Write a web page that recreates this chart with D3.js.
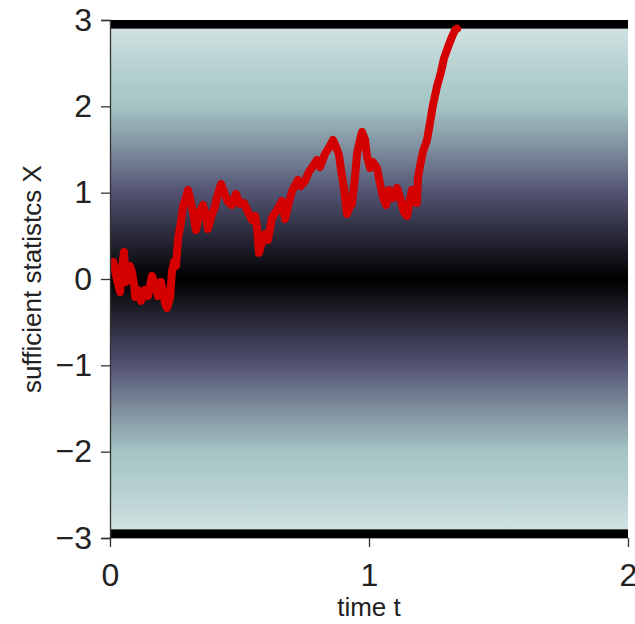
<!DOCTYPE html>
<html>
<head>
<meta charset="utf-8">
<script src="https://cdn.jsdelivr.net/npm/d3@7"></script>
<style>
  html, body { margin: 0; padding: 0; background: #fff; }
  svg { display: block; }
  text { font-family: "Liberation Sans", Arial, Helvetica, sans-serif; fill: #222; }
</style>
</head>
<body>
<svg id="chart" width="635" height="624"></svg>
<script>
// Sample path of the sufficient statistic over time
const times = [0.012,0.019,0.027,0.039,0.046,0.054,0.062,0.069,0.077,0.085,0.093,0.097,0.108,0.120,0.135,0.147,0.162,0.174,0.185,0.197,
  0.205,0.212,0.220,0.232,0.239,0.247,0.255,0.263,0.274,0.282,0.293,0.301,0.309,0.320,0.332,0.347,0.359,0.371,0.378,0.394,
  0.405,0.413,0.429,0.444,0.456,0.471,0.486,0.502,0.517,0.533,0.548,0.560,0.568,0.575,0.587,0.598,0.610,0.625,0.645,0.664,
  0.676,0.687,0.703,0.726,0.737,0.753,0.768,0.784,0.799,0.811,0.830,0.849,0.861,0.873,0.884,0.892,0.903,0.915,0.927,0.934,
  0.946,0.954,0.965,0.973,0.985,0.992,1.004,1.015,1.031,1.042,1.054,1.066,1.077,1.093,1.108,1.120,1.135,1.147,1.158,1.166,
  1.178,1.185,1.189,1.197,1.208,1.224,1.236,1.247,1.263,1.278,1.290,1.305,1.320,1.332,1.340];
const statX = [0.197,0.104,-0.012,-0.151,0.127,0.313,-0.035,0.046,0.151,0.081,-0.069,-0.208,-0.127,-0.255,-0.127,-0.197,0.035,-0.058,-0.197,-0.035,
  -0.151,-0.278,-0.336,-0.220,0.081,0.197,0.151,0.475,0.660,0.846,0.938,1.031,0.938,0.776,0.568,0.776,0.857,0.730,0.579,0.753,
  0.834,0.950,1.100,0.973,0.892,0.857,0.985,0.869,0.880,0.776,0.683,0.730,0.591,0.301,0.429,0.521,0.452,0.707,0.799,0.903,
  0.695,0.846,1.019,1.147,1.077,1.135,1.239,1.309,1.378,1.297,1.448,1.541,1.610,1.529,1.436,1.263,1.054,0.753,0.846,0.869,
  1.181,1.459,1.610,1.703,1.610,1.425,1.286,1.355,1.286,1.112,0.950,0.857,1.031,0.938,1.054,0.938,0.776,0.730,0.915,1.031,
  1.008,0.880,1.170,1.309,1.471,1.610,1.819,2.015,2.236,2.398,2.560,2.687,2.803,2.884,2.900];

// Decision bounds
const bounds = [2.9, -2.9];

// Background field: level of X -> position on the bone colour map
const fieldLevels = [0, 0.5, 1, 1.5, 2, 2.5, 3];
const fieldValues = [0, 0.185, 0.37, 0.56, 0.74, 0.80, 0.885];

// Axis ticks
const xTicks = [0, 1, 2];
const yTicks = [-3, -2, -1, 0, 1, 2, 3];

const svg = d3.select("#chart");
const plotL = 110, plotR = 628, plotT = 20, plotB = 538;

const x = d3.scaleLinear().domain([0, 2]).range([plotL, plotR]);
const y = d3.scaleLinear().domain([-3, 3]).range([plotB, plotT]);

// bone colour map
const bone = d3.scaleLinear()
  .domain([0, 0.365079, 0.746032, 1])
  .range(["#000000", "#515171", "#a6c6c6", "#ffffff"])
  .interpolate(d3.interpolateRgb);
const level = d3.scaleLinear().domain(fieldLevels).range(fieldValues);

const defs = svg.append("defs");
const grad = defs.append("linearGradient")
  .attr("id", "field")
  .attr("gradientUnits", "userSpaceOnUse")
  .attr("x1", 0).attr("x2", 0)
  .attr("y1", y(3)).attr("y2", y(-3));
grad.selectAll("stop")
  .data(d3.range(3, -3.0001, -0.05))
  .join("stop")
  .attr("offset", d => (3 - d) / 6)
  .attr("stop-color", d => bone(level(Math.abs(d))));

defs.append("clipPath").attr("id", "plotclip")
  .append("rect")
  .attr("x", plotL).attr("y", plotT)
  .attr("width", plotR - plotL).attr("height", plotB - plotT);

svg.append("rect")
  .attr("x", plotL).attr("y", plotT)
  .attr("width", plotR - plotL).attr("height", plotB - plotT)
  .attr("fill", "url(#field)");

// bottom spine
svg.append("line")
  .attr("x1", plotL).attr("x2", plotR)
  .attr("y1", plotB).attr("y2", plotB)
  .attr("stroke", "#555").attr("stroke-width", 1.2);

// bound bands
svg.selectAll("rect.bound")
  .data(bounds)
  .join("rect")
  .attr("class", "bound")
  .attr("x", plotL)
  .attr("width", plotR - plotL)
  .attr("y", d => d > 0 ? y(3) : y(d))
  .attr("height", d => Math.abs(y(d) - y(d > 0 ? 3 : -3)))
  .attr("fill", "#000");

// sample path
const pts = times.map((t, i) => [t, statX[i]]);
svg.append("path")
  .datum(pts)
  .attr("clip-path", "url(#plotclip)")
  .attr("fill", "none")
  .attr("stroke", "#d40000")
  .attr("stroke-width", 8)
  .attr("stroke-linejoin", "round")
  .attr("stroke-linecap", "round")
  .attr("d", d3.line().x(d => x(d[0])).y(d => y(d[1])));

// y axis
const yAxis = d3.axisLeft(y).tickValues(yTicks).tickSize(9).tickPadding(9)
  .tickFormat(d => d < 0 ? "\u2212" + Math.abs(d) : String(d));
const gy = svg.append("g").attr("transform", `translate(${plotL},0)`).call(yAxis);
gy.select(".domain").attr("stroke", "#333").attr("stroke-width", 1.3);
gy.selectAll(".tick line").attr("stroke", "#333").attr("stroke-width", 1.3);
gy.selectAll(".tick text")
  .attr("font-size", 32)
  .attr("fill", "#222")
  .attr("font-family", "'Liberation Sans', Arial, Helvetica, sans-serif");

// x axis
const xAxis = d3.axisBottom(x).tickValues(xTicks).tickSize(9).tickPadding(16)
  .tickFormat(d3.format("d"));
const gx = svg.append("g").attr("transform", `translate(0,${plotB})`).call(xAxis);
gx.select(".domain").remove();
gx.selectAll(".tick line").attr("stroke", "#333").attr("stroke-width", 1.3);
gx.selectAll(".tick text")
  .attr("font-size", 32)
  .attr("fill", "#222")
  .attr("font-family", "'Liberation Sans', Arial, Helvetica, sans-serif");

// axis titles
svg.append("text")
  .attr("x", x(1)).attr("y", 616)
  .attr("text-anchor", "middle")
  .attr("font-size", 26)
  .text("time t");

svg.append("text")
  .attr("transform", `translate(41,${y(0)}) rotate(-90)`)
  .attr("text-anchor", "middle")
  .attr("font-size", 26)
  .text("sufficient statistcs X");
</script>
</body>
</html>
